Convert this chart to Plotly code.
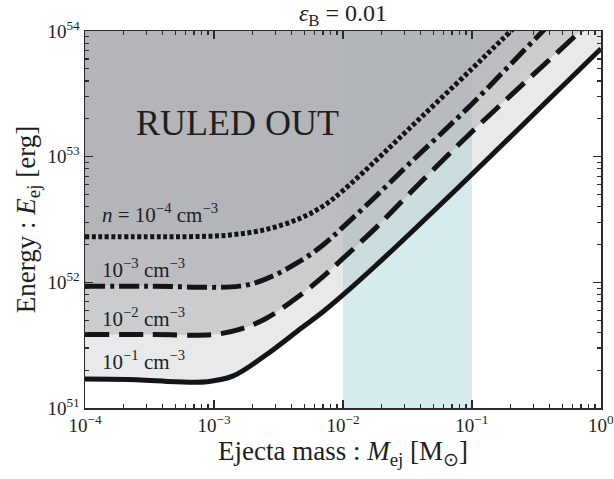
import math
import plotly.graph_objects as go

# ---- data (M_ej in solar masses, E_ej in erg) ----
# n = 1e-1 cm^-3
M_n1 = [1e-4, 2.51e-4, 5.01e-4, 8.91e-4, 1.41e-3, 2.51e-3, 4.68e-3, 7.08e-3, 1e-2, 1.78e-2, 3.16e-2, 1e-1, 3.16e-1, 1.0]
E_n1 = [1.70e51, 1.68e51, 1.62e51, 1.62e51, 1.80e51, 2.63e51, 4.27e51, 5.89e51, 7.94e51, 1.35e52, 2.34e52, 7.24e52, 2.29e53, 7.24e53]
# n = 1e-2 cm^-3
M_n2 = [1e-4, 3e-4, 1e-3, 1.58e-3, 2.51e-3, 4.68e-3, 7.08e-3, 1e-2, 1.78e-2, 3.16e-2, 1e-1, 6.92e-1, 1.0]
E_n2 = [3.85e51, 3.85e51, 3.85e51, 4.22e51, 5.13e51, 7.94e51, 1.12e52, 1.55e52, 2.69e52, 4.90e52, 1.58e53, 1.0e54, 1.45e54]
# n = 1e-3 cm^-3
M_n3 = [1e-4, 3e-4, 1.58e-3, 2.51e-3, 4.68e-3, 7.08e-3, 1e-2, 1.78e-2, 3.16e-2, 1e-1, 3.55e-1, 1.0]
E_n3 = [9.33e51, 9.33e51, 9.33e51, 1.06e52, 1.48e52, 2.00e52, 2.75e52, 4.79e52, 8.51e52, 2.63e53, 1.0e54, 2.82e54]
# n = 1e-4 cm^-3
M_n4 = [1e-4, 3e-4, 6.31e-4, 1.26e-3, 2.51e-3, 4.68e-3, 7.08e-3, 1e-2, 1.78e-2, 3.16e-2, 1e-1, 2.0e-1, 1.0]
E_n4 = [2.31e52, 2.31e52, 2.31e52, 2.37e52, 2.63e52, 3.24e52, 4.07e52, 5.37e52, 9.23e52, 1.62e53, 5.01e53, 1.0e54, 5.01e54]

band_M = [1e-2, 1e-1]          # highlighted ejecta-mass range
x_ticks = [1e-4, 1e-3, 1e-2, 1e-1, 1.0]
x_ticktext = ["10<sup>−4</sup>", "10<sup>−3</sup>", "10<sup>−2</sup>", "10<sup>−1</sup>", "10<sup>0</sup>"]
y_ticks = [1e51, 1e52, 1e53, 1e54]
y_ticktext = ["10<sup>51</sup>", "10<sup>52</sup>", "10<sup>53</sup>", "10<sup>54</sup>"]
labels = ["10<sup>−1</sup> cm<sup>−3</sup>", "10<sup>−2</sup> cm<sup>−3</sup>",
          "10<sup>−3</sup> cm<sup>−3</sup>", "<i>n</i> = 10<sup>−4</sup> cm<sup>−3</sup>"]
label_E = [2.4e51, 5.25e51, 1.29e52, 3.55e52]
label_M = 1.3e-4

FONT = "Liberation Serif"
TXT = "#1e1e1e"
AX = "#2a2a2a"
SM = 1.0
# curves from top (lowest density) to bottom, with the fill of the region just above each
curves = [
    (M_n4, E_n4, "4px,2.5px", "rgba(174,175,179,0.92)"),
    (M_n3, E_n3, "20px,5px,4px,5px", "rgba(177,178,182,0.85)"),
    (M_n2, E_n2, "24px,10px", "rgba(181,182,185,0.70)"),
    (M_n1, E_n1, "solid", "rgba(178,181,188,0.30)"),
]

fig = go.Figure()
TOP = 1e55
fig.add_trace(go.Scatter(x=[1e-4, 1.0], y=[TOP, TOP], mode="lines",
                         line=dict(width=0), showlegend=False, hoverinfo="skip"))
for M, E, _, fc in curves:
    fig.add_trace(go.Scatter(x=M, y=E, mode="lines", fill="tonexty", fillcolor=fc,
                             line=dict(width=0, shape="spline", smoothing=SM),
                             showlegend=False, hoverinfo="skip"))
for M, E, dash, _ in curves:
    fig.add_trace(go.Scatter(x=M, y=E, mode="lines",
                             line=dict(color="#141414", width=5, dash=dash,
                                       shape="spline", smoothing=SM),
                             showlegend=False))
# invisible trace to activate the mirrored (top/right) tick axes
fig.add_trace(go.Scatter(x=[1e-4], y=[1e51], xaxis="x2", yaxis="y2", mode="markers",
                         marker=dict(opacity=0), showlegend=False, hoverinfo="skip"))

fig.add_shape(type="rect", xref="x", yref="paper", x0=band_M[0], x1=band_M[1],
              y0=0, y1=1, fillcolor="#d6ecec", line=dict(width=0), layer="below")

for txt, e in zip(labels, label_E):
    fig.add_annotation(x=math.log10(label_M), y=math.log10(e), xref="x", yref="y",
                       text=txt, showarrow=False, xanchor="left", yanchor="middle",
                       font=dict(family=FONT, size=21, color=TXT))
fig.add_annotation(x=-2.82, y=53.27, xref="x", yref="y", text="RULED OUT",
                   showarrow=False, font=dict(family=FONT, size=36, color=TXT))

minor_x = [k * 10.0 ** d for d in range(-4, 0) for k in range(2, 10)]
minor_y = [k * 10.0 ** d for d in range(51, 54) for k in range(2, 10)]
XR = [-4, 0.0005]
YR = [51, 54.0004]
tick_common = dict(type="log", ticks="inside", ticklen=8, tickwidth=1.2, tickcolor=AX,
                   showgrid=False, zeroline=False, automargin=False,
                   ticklabeloverflow="allow",
                   tickfont=dict(family=FONT, size=19, color=TXT))
fig.update_layout(
    xaxis=dict(range=XR, tickvals=x_ticks, ticktext=x_ticktext, showline=True,
               linecolor=AX, linewidth=1.5, mirror=True,
               minor=dict(tickvals=minor_x, ticks="inside", ticklen=4, tickcolor=AX, showgrid=False),
               title=dict(text="Ejecta mass : <i>M</i><sub>ej</sub> [M<sub>⊙</sub>]",
                          font=dict(family=FONT, size=27, color=TXT), standoff=6),
               **tick_common),
    yaxis=dict(range=YR, tickvals=y_ticks, ticktext=y_ticktext, showline=True,
               linecolor=AX, linewidth=1.5, mirror=True,
               minor=dict(tickvals=minor_y, ticks="inside", ticklen=4, tickcolor=AX, showgrid=False),
               title=dict(text="Energy : <i>E</i><sub>ej</sub> [erg]",
                          font=dict(family=FONT, size=27, color=TXT), standoff=4),
               **tick_common),
    xaxis2=dict(range=XR, tickvals=x_ticks, overlaying="x", side="top", anchor="y",
                showticklabels=False,
                minor=dict(tickvals=minor_x, ticks="inside", ticklen=4, tickcolor=AX, showgrid=False),
                **tick_common),
    yaxis2=dict(range=YR, tickvals=y_ticks, overlaying="y", side="right", anchor="x",
                showticklabels=False,
                minor=dict(tickvals=minor_y, ticks="inside", ticklen=4, tickcolor=AX, showgrid=False),
                **tick_common),
    width=614, height=479,
    margin=dict(l=85, r=13, t=31, b=71, autoexpand=False),
    plot_bgcolor="white", paper_bgcolor="white",
    title=dict(text="<i>ε</i><sub>B</sub> = 0.01", x=0.5, xref="paper", xanchor="center",
               y=1 - 13 / 479, yref="container", yanchor="middle",
               font=dict(family=FONT, size=24, color=TXT)),
)
fig.write_html("out.html", config={"displayModeBar": False, "staticPlot": True},
               post_script="document.body.style.margin='0px';document.body.style.overflow='hidden';")
